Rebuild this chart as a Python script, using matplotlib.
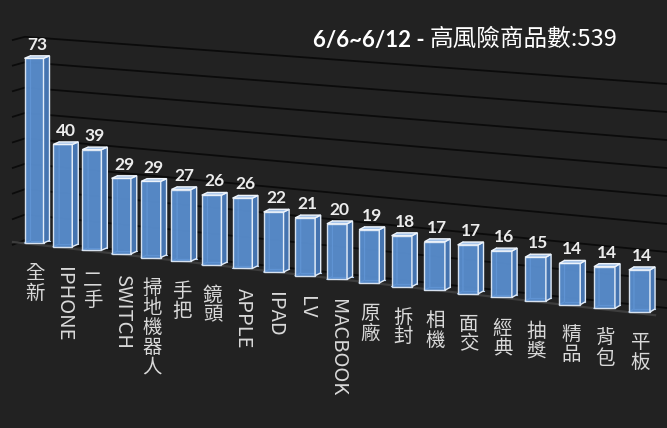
import matplotlib.pyplot as plt
from matplotlib.patches import Polygon

# data
categories = ['全新', 'IPHONE', '二手', 'SWITCH', '掃地機器人', '手把', '鏡頭', 'APPLE',
              'IPAD', 'LV', 'MACBOOK', '原廠', '拆封', '相機', '面交', '經典', '抽獎',
              '精品', '背包', '平板']
counts = [73, 40, 39, 29, 29, 27, 26, 26, 22, 21, 20, 19, 18, 17, 17, 16, 15, 14, 14, 14]
grid_values = list(range(0, 81, 10))
title_dates = '6/6~6/12 - '
title_text = '高風險商品數:539'

BG = '#222222'
FONT = ['Lato', 'Noto Sans CJK TC', 'DejaVu Sans']
CJK = ['Noto Sans CJK TC', 'DejaVu Sans']


# fake perspective: the right end of the chart is closer to the viewer
def bar_center(i):
    return 34 + 28.56 * i + 0.174 * i * i

def base_y(i):
    return 243 + 3.63 * i

def unit_px(i):
    return 2.53 + 0.0247 * i

def bar_width(i):
    return 19 + 0.11 * i

def depth(i):
    return 6 - 0.05 * i, -2.5 - 0.03 * i

def wall_y(v, x):
    # back wall, straight lines between left and right ends
    yl = 240 - 2.54 * v
    yr = 308 - 2.8 * v
    return yl + (yr - yl) * (x - 25) / (667 - 25)


fig = plt.figure(figsize=(6.67, 4.28), dpi=100)
fig.patch.set_facecolor(BG)
ax = fig.add_axes([0, 0, 1, 1])
ax.set_facecolor(BG)
ax.set_xlim(0, 667)
ax.set_ylim(428, 0)
ax.axis('off')

# gridlines on side wall + back wall
for v in grid_values:
    ax.plot([12, 25, 667], [245 - 2.56 * v, wall_y(v, 25), wall_y(v, 667)],
            color='#0b0b0b', lw=1.3, zorder=1, solid_capstyle='butt')

# floor front edge
ax.plot([13, 655], [242, 242 + 0.114 * 642], color='#3d3d3d', lw=1.6, zorder=1)

# bars
for i, v in enumerate(counts):
    w = bar_width(i)
    xl = bar_center(i) - w / 2
    xr = bar_center(i) + w / 2
    yb = base_y(i)
    yt = yb - v * unit_px(i)
    dx, dy = depth(i)

    # edges seen through the glass
    ax.plot([xl, xl + dx, xl + dx], [yb, yb + dy, yt + dy], color='#a8c6ec', lw=0.8, zorder=2)
    ax.plot([xl + dx, xr + dx], [yb + dy, yb + dy], color='#a8c6ec', lw=0.8, zorder=2)

    ax.add_patch(Polygon([(xl, yb), (xr, yb), (xr, yt), (xl, yt)], closed=True,
                         facecolor='#5a90d2', edgecolor='#e2ecf8', lw=1.0, alpha=0.93, zorder=3))
    ax.add_patch(Polygon([(xr, yb), (xr + dx, yb + dy), (xr + dx, yt + dy), (xr, yt)], closed=True,
                         facecolor='#4574b0', edgecolor='#e2ecf8', lw=1.0, zorder=3))
    ax.add_patch(Polygon([(xl, yt), (xr, yt), (xr + dx, yt + dy), (xl + dx, yt + dy)], closed=True,
                         facecolor='#a3c2e8', edgecolor='#eef4fb', lw=1.0, zorder=4))

    ax.text(bar_center(i) + dx / 2, yt + dy - 6, str(v), ha='center', va='baseline',
            fontsize=12.5, fontweight='bold', color='#ececec', family=FONT, zorder=5)

    lab_x = bar_center(i) + 1
    lab_y = yb + 20
    if categories[i].isascii():
        ax.text(lab_x, lab_y, categories[i], rotation=-90, ha='center', va='top',
                fontsize=14.5, color='#d9d9d9', family=CJK, zorder=5)
    else:
        ax.text(lab_x, lab_y, '\n'.join(categories[i]), ha='center', va='top',
                fontsize=14, color='#d9d9d9', family=CJK, linespacing=0.92, zorder=5)

# title
t1 = ax.text(313, 47, title_dates, fontsize=16, fontweight='bold', color='white',
             va='baseline', ha='left', family=FONT, zorder=6)
ax.annotate(title_text, xy=(1, 0), xycoords=t1, va='bottom', ha='left',
            fontsize=17, color='white', family=CJK, zorder=6)

fig.savefig('out.png', dpi=100, facecolor=BG)
